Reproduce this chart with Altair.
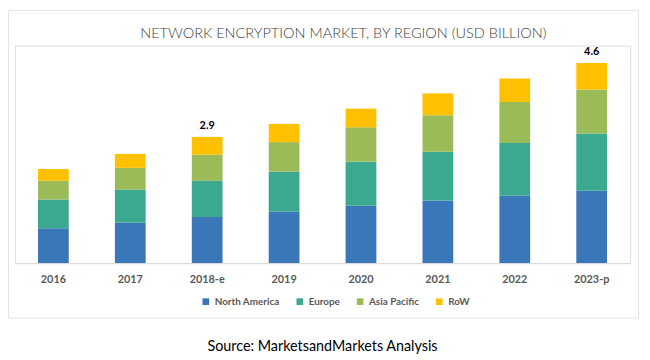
import altair as alt
import pandas as pd

years = ["2016", "2017", "2018-e", "2019", "2020", "2021", "2022", "2023-p"]
regions = ["North America", "Europe", "Asia Pacific", "RoW"]
north_america = [0.80, 0.93, 1.06, 1.18, 1.32, 1.44, 1.55, 1.66]
europe = [0.66, 0.76, 0.83, 0.92, 1.01, 1.12, 1.21, 1.32]
asia_pacific = [0.43, 0.50, 0.60, 0.68, 0.79, 0.84, 0.94, 1.01]
row = [0.27, 0.32, 0.41, 0.42, 0.43, 0.50, 0.54, 0.61]
total_labels = [None, None, "2.9", None, None, None, None, "4.6"]
colors = ["#3a77b8", "#3aa98f", "#9bbb59", "#ffc000"]
title_text = "NETWORK ENCRYPTION MARKET, BY REGION (USD BILLION)"
source_text = "Source: MarketsandMarkets Analysis"

series = [north_america, europe, asia_pacific, row]
rows = []
for ri, (reg, vals) in enumerate(zip(regions, series)):
    for y, v in zip(years, vals):
        rows.append({"year": y, "region": reg, "value": v, "idx": ri})
df = pd.DataFrame(rows)

tot = pd.DataFrame({
    "year": years,
    "total": [sum(s[i] for s in series) for i in range(len(years))],
    "label": total_labels,
}).dropna()

FONT = "Lato"

x_enc = alt.X("year:N", sort=years,
              scale=alt.Scale(paddingInner=0.6, paddingOuter=0.3),
              axis=alt.Axis(title=None, labelAngle=0, ticks=False, tickSize=0,
                            domainColor="#d9d9d9", domainWidth=1, zindex=1,
                            labelFont=FONT, labelFontSize=11, labelFontWeight="bold",
                            labelColor="#595959", labelPadding=11, grid=False))

frame = alt.Chart(pd.DataFrame({"a": [0]})).mark_rect(
    fillOpacity=0, stroke="#e3e3e3", strokeWidth=1).encode(
    x=alt.value(-6.5), x2=alt.value(630.5), y=alt.value(-35.5), y2=alt.value(275.5))

bars = alt.Chart(df).mark_bar().encode(
    x=x_enc,
    y=alt.Y("value:Q", stack="zero", scale=alt.Scale(domain=[0, 5]), axis=None),
    color=alt.Color("region:N", sort=regions,
                    scale=alt.Scale(domain=regions, range=colors),
                    legend=alt.Legend(title=None, orient="none", direction="horizontal",
                                      legendX=188, legendY=254,
                                      symbolType="square", symbolSize=45,
                                      symbolStrokeWidth=0,
                                      labelFont=FONT, labelFontSize=10,
                                      labelFontWeight="bold", labelColor="#595959",
                                      labelOffset=4, columnPadding=15)),
    order=alt.Order("idx:Q", sort="ascending"),
)

labels = alt.Chart(tot).mark_text(baseline="bottom", dy=-6, font=FONT,
                                  fontSize=11, fontWeight="bold", color="#000000").encode(
    x=alt.X("year:N", sort=years),
    y=alt.Y("total:Q"),
    text="label:N",
)

title = alt.Chart(pd.DataFrame({"t": [title_text]})).mark_text(
    font=FONT, fontSize=14.7, fontWeight=300, color="#404040",
    align="center", baseline="middle").encode(
    x=alt.value(332), y=alt.value(-12), text="t:N")

source = alt.Chart(pd.DataFrame({"t": [source_text]})).mark_text(
    font=FONT, fontSize=14.5, color="#000000", align="center", baseline="middle").encode(
    x=alt.value(311), y=alt.value(305), text="t:N")

chart = alt.layer(bars, labels, title, source, frame).properties(
    width=622, height=220,
    autosize=alt.AutoSizeParams(type="none"),
    padding={"left": 7, "top": 36, "right": 12, "bottom": 94},
).configure_view(stroke=None).configure(background="#ffffff")

chart.save("out.html", embed_options={"renderer": "svg", "actions": False})
